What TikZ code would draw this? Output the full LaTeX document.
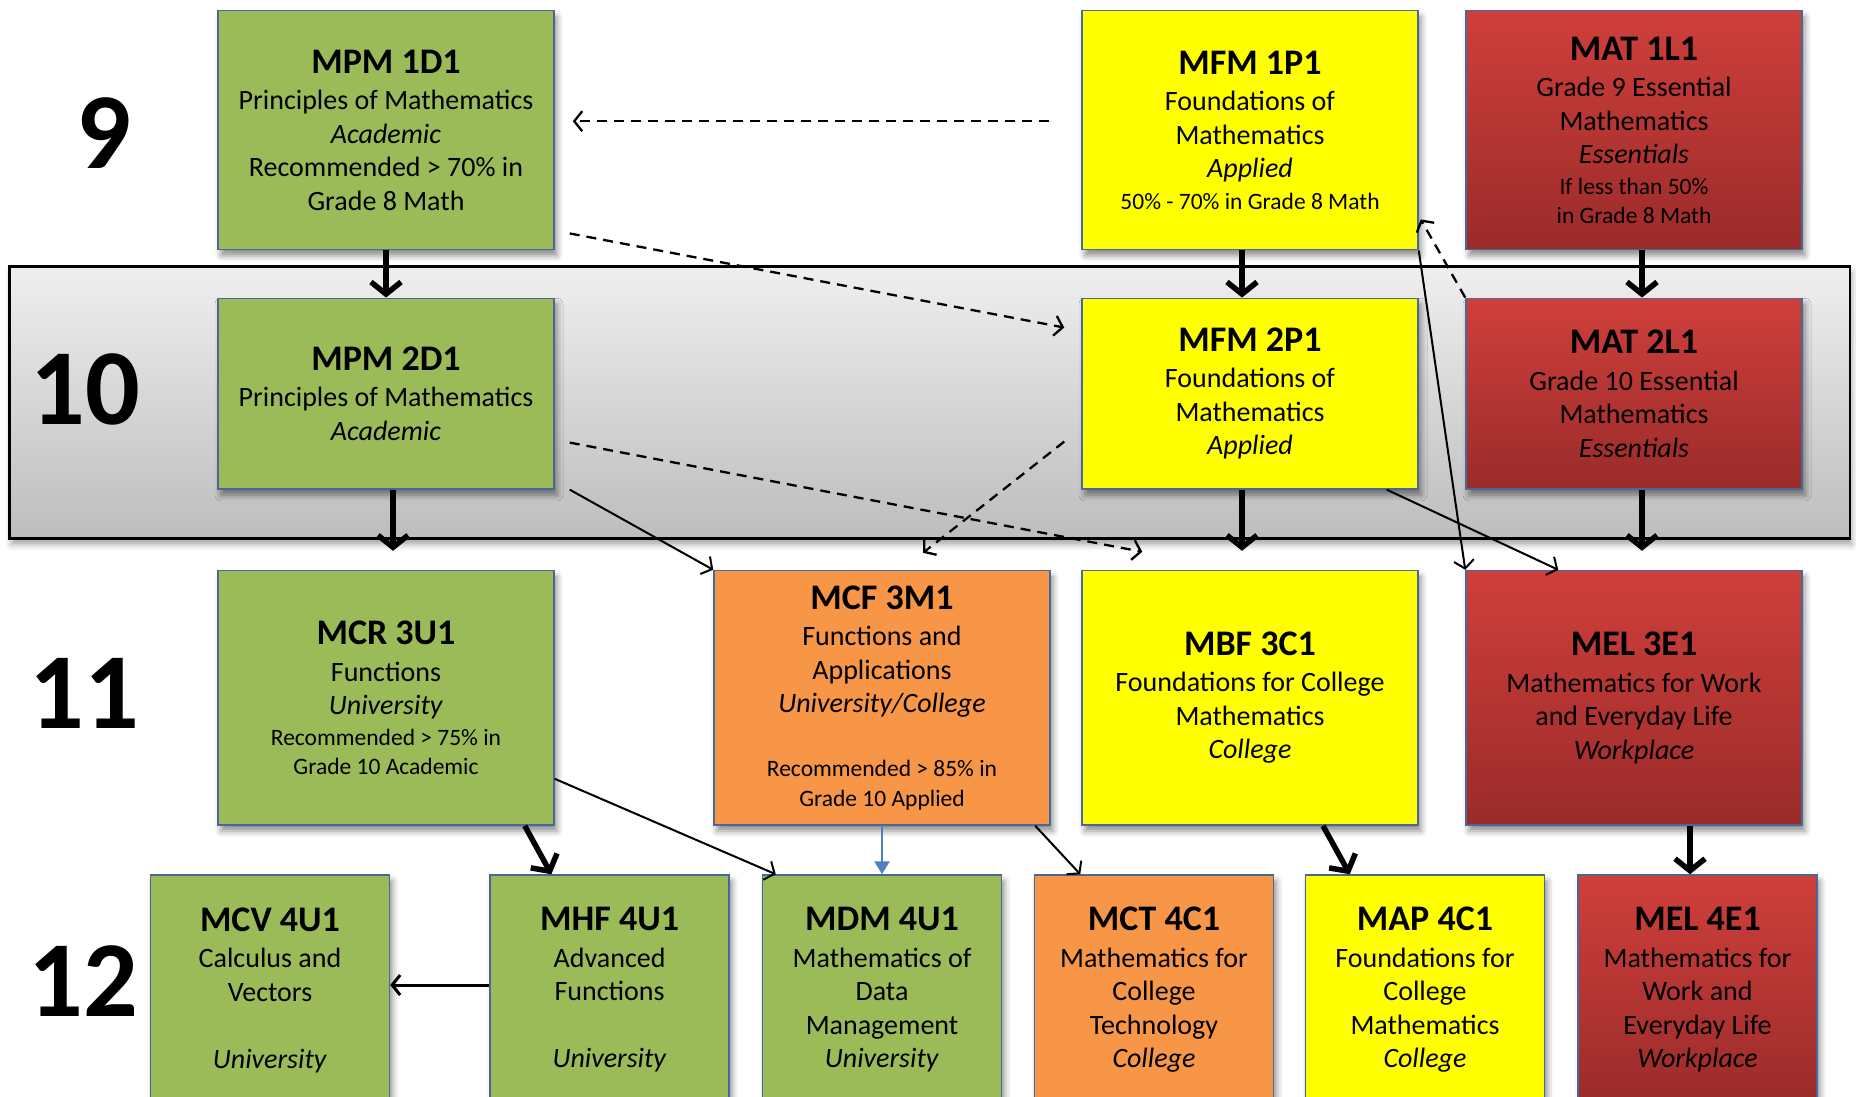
\documentclass[tikz,border=0pt]{standalone}
\usepackage{fontspec}
\setmainfont{Carlito}
\usepackage{tikz}
\usetikzlibrary{arrows.meta, calc, shadows.blur}

\definecolor{acadgreen}{HTML}{9BBB59}
\definecolor{applyellow}{HTML}{FFFF00}
\definecolor{mixorange}{HTML}{F79646}
\definecolor{esstop}{HTML}{CF3F3B}
\definecolor{essbottom}{HTML}{9A2B2A}
\definecolor{boxline}{HTML}{4A6895}
\definecolor{bandtop}{HTML}{EFEFEF}
\definecolor{bandbottom}{HTML}{BDBDBD}
\definecolor{linkblue}{HTML}{4F81BD}

\newcommand{\boxtitle}[1]{{\fontsize{36}{40}\selectfont\bfseries #1}}
\newcommand{\smalltext}[1]{{\fontsize{23.5}{28.4}\selectfont #1}}

\tikzstyle{course} = [draw=boxline, line width=1.5pt, align=center, inner sep=0pt, font=\fontsize{28}{33.5}\selectfont, blur shadow={shadow xshift=3pt, shadow yshift=-6pt, shadow blur radius=6pt, shadow opacity=45}]
\tikzstyle{wide} = [course, minimum width=336pt]
\tikzstyle{narrow} = [course, minimum width=239pt, minimum height=230pt]
\tikzstyle{redfill} = [top color=esstop, bottom color=essbottom]
\tikzstyle{grade} = [font=\fontsize{108}{108}\selectfont\bfseries]
\tikzstyle{arrow} = [line width=5.5pt, -{Straight Barb[length=12pt,width=30pt]}]
\tikzstyle{thinarrow} = [line width=2pt, -{Straight Barb[length=8pt,width=20pt]}]
\tikzstyle{dasharrow} = [thinarrow, line width=2.3pt, dash pattern=on 10pt off 7pt]
\tikzstyle{bluearrow} = [linkblue, line width=2.5pt, -{Triangle[length=13pt,width=15pt]}]

\begin{document}
\begin{tikzpicture}[x=1pt, y=-1pt]
\useasboundingbox (0,0) rectangle (1856,1097);
\clip (0,0) rectangle (1856,1097);

% Grade 10 band
\draw[line width=2.5pt, top color=bandtop, bottom color=bandbottom, blur shadow={shadow xshift=2pt, shadow yshift=-6pt, shadow blur radius=6pt, shadow opacity=35}] (9.5,266.3) rectangle (1850,538.6);

% Grade numbers
\node[grade] (g9) at (104,133) {9};
\node[grade] (g10) at (85,389) {10};
\node[grade] (g11) at (84,693.5) {11};
\node[grade] (g12) at (83,981) {12};

% Grade 9
\node[wide, minimum height=239pt, fill=acadgreen] (mpm1) at (386,130.2) {\boxtitle{MPM 1D1}\\[3pt]Principles of Mathematics\\\textit{Academic}\\Recommended > 70\% in\\Grade 8 Math};
\node[wide, minimum height=239pt, fill=applyellow] (mfm1) at (1250,130.2) {\boxtitle{MFM 1P1}\\[3pt]Foundations of\\Mathematics\\\textit{Applied}\\[-1.5pt]\smalltext{50\% - 70\% in Grade 8 Math}};
\node[wide, minimum height=239pt, redfill] (mat1) at (1634,130.2) {\boxtitle{MAT 1L1}\\[3pt]Grade 9 Essential\\Mathematics\\\textit{Essentials}\\[-2.7pt]\smalltext{If less than 50\%}\\[-5.1pt]\smalltext{in Grade 8 Math}};

% Grade 10
\node[wide, minimum height=190.6pt, fill=acadgreen] (mpm2) at (386,393.6) {\boxtitle{MPM 2D1}\\[3pt]Principles of Mathematics\\\textit{Academic}};
\node[wide, minimum height=190.6pt, fill=applyellow] (mfm2) at (1250,393.6) {\boxtitle{MFM 2P1}\\[3pt]Foundations of\\Mathematics\\\textit{Applied}};
\node[wide, minimum height=190.6pt, redfill] (mat2) at (1634,393.6) {\boxtitle{MAT 2L1}\\[3pt]Grade 10 Essential\\Mathematics\\\textit{Essentials}};

% Grade 11
\node[wide, minimum height=254.5pt, fill=acadgreen] (mcr3) at (386,697.8) {\boxtitle{MCR 3U1}\\[3pt]Functions\\\textit{University}\\[-2.7pt]\smalltext{Recommended > 75\% in}\\[-5.1pt]\smalltext{Grade 10 Academic}};
\node[wide, minimum height=254.5pt, fill=mixorange] (mcf3) at (882,697.8) {\boxtitle{MCF 3M1}\\[3pt]Functions and\\Applications\\\textit{University/College}\\[30.5pt]\smalltext{Recommended > 85\% in}\\[-4pt]\smalltext{Grade 10 Applied}};
\node[wide, minimum height=254.5pt, fill=applyellow] (mbf3) at (1250,697.8) {\boxtitle{MBF 3C1}\\[3pt]Foundations for College\\Mathematics\\\textit{College}};
\node[wide, minimum height=254.5pt, redfill] (mel3) at (1634,697.8) {\boxtitle{MEL 3E1}\\[3pt]Mathematics for Work\\and Everyday Life\\\textit{Workplace}};

% Grade 12
\node[narrow, fill=acadgreen] (mcv4) at (270,990) {\boxtitle{MCV 4U1}\\[3pt]Calculus and\\Vectors\\[33.5pt]\textit{University}};
\node[narrow, fill=acadgreen] (mhf4) at (609.6,990) {\boxtitle{MHF 4U1}\\[3pt]Advanced\\Functions\\[33.5pt]\textit{University}};
\node[narrow, fill=acadgreen] (mdm4) at (882,990) {\boxtitle{MDM 4U1}\\[3pt]Mathematics of\\Data\\Management\\\textit{University}};
\node[narrow, fill=mixorange] (mct4) at (1154,990) {\boxtitle{MCT 4C1}\\[3pt]Mathematics for\\College\\Technology\\\textit{College}};
\node[narrow, fill=applyellow] (map4) at (1425,990) {\boxtitle{MAP 4C1}\\[3pt]Foundations for\\College\\Mathematics\\\textit{College}};
\node[narrow, redfill] (mel4) at (1697.5,990) {\boxtitle{MEL 4E1}\\[3pt]Mathematics for\\Work and\\Everyday Life\\\textit{Workplace}};

% Straight-through arrows
\draw[arrow] (mpm1.south) -- (mpm2.north);
\draw[arrow] ([xshift=-8pt]mfm1.south) -- ([xshift=-8pt]mfm2.north);
\draw[arrow] ([xshift=8pt]mat1.south) -- ([xshift=8pt]mat2.north);
\draw[arrow, shorten >=19pt] ([xshift=7pt]mpm2.south) -- ([xshift=7pt]mcr3.north);
\draw[arrow, shorten >=19pt] ([xshift=-8pt]mfm2.south) -- ([xshift=-8pt]mbf3.north);
\draw[arrow, shorten >=19pt] ([xshift=8pt]mat2.south) -- ([xshift=8pt]mel3.north);
\draw[arrow] ([xshift=-30pt]mcr3.south east) -- ([xshift=62pt]mhf4.north west);
\draw[arrow] ([xshift=73pt]mbf3.south) -- ([xshift=45pt]map4.north west);
\draw[arrow] ([xshift=56pt]mel3.south) -- ([xshift=-7.5pt]mel4.north);

% Other pathways
\draw[thinarrow] (mfm1.south east) -- (mel3.north west);
\draw[thinarrow] ([xshift=15pt]mpm2.south east) -- (mcf3.north west);
\draw[thinarrow] ([xshift=-32pt]mfm2.south east) -- ([xshift=93pt]mel3.north west);
\draw[thinarrow] ([yshift=47pt]mcr3.south east) -- ([xshift=14pt]mdm4.north west);
\draw[thinarrow] ([xshift=-15.5pt]mcf3.south east) -- ([xshift=46.5pt]mct4.north west);
\draw[bluearrow] (mcf3.south) -- (mdm4.north);
\draw[thinarrow, line width=3pt] ([yshift=5pt]mhf4.west) -- ([yshift=5pt]mcv4.east);

% Transfer (dashed) pathways
\draw[dasharrow] ($(mfm1.west)+(-32,-9)$) -- ($(mpm1.east)+(18,-9)$);
\draw[dasharrow] ($(mpm1.south east)+(15,-17)$) -- ($(mfm2.north west)+(-17,30)$);
\draw[dasharrow] ($(mpm2.east)+(15,49)$) -- ($(mbf3.north west)+(61,-18)$);
\draw[dasharrow] ($(mfm2.west)+(-17,48)$) -- ($(mcf3.north)+(41,-17)$);
\draw[dasharrow] (mat2.north west) -- ($(mfm1.south east)+(2,-31)$);
\end{tikzpicture}
\end{document}
